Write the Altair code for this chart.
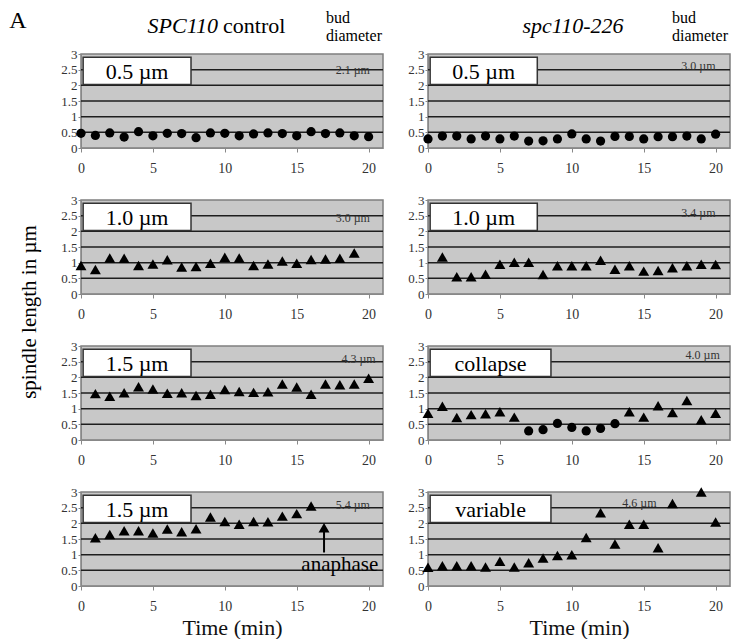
import altair as alt
import pandas as pd

# ---------------- data ----------------
time = list(range(21))
x_ticks = [0, 5, 10, 15, 20]
y_ticks = [0, 0.5, 1, 1.5, 2, 2.5, 3]
grid_levels = [0.5, 1, 1.5, 2, 2.5]

ctrl_05 = [0.47, 0.40, 0.48, 0.35, 0.52, 0.39, 0.47, 0.46, 0.33, 0.48, 0.47,
           0.39, 0.45, 0.48, 0.46, 0.39, 0.52, 0.46, 0.48, 0.39, 0.36]
mut_05 = [0.29, 0.38, 0.38, 0.29, 0.38, 0.29, 0.38, 0.22, 0.23, 0.29, 0.45,
          0.29, 0.22, 0.37, 0.37, 0.29, 0.36, 0.36, 0.38, 0.29, 0.44]
ctrl_10 = [0.91, 0.78, 1.15, 1.14, 0.91, 0.96, 1.09, 0.86, 0.88, 0.98, 1.17,
           1.15, 0.91, 0.96, 1.05, 0.98, 1.10, 1.12, 1.14, 1.31, None]
mut_10 = [None, 1.18, 0.55, 0.55, 0.63, 0.95, 1.01, 1.01, 0.62, 0.90, 0.90,
          0.90, 1.08, 0.79, 0.90, 0.73, 0.75, 0.84, 0.90, 0.95, 0.94]
ctrl_15a = [None, 1.48, 1.40, 1.51, 1.70, 1.63, 1.49, 1.51, 1.42, 1.46, 1.61,
            1.55, 1.52, 1.54, 1.79, 1.69, 1.46, 1.79, 1.76, 1.79, 1.97]
mut_collapse = [0.85, 1.08, 0.72, 0.81, 0.84, 0.90, 0.73, 0.29, 0.33, 0.53, 0.40,
                0.29, 0.37, 0.52, 0.90, 0.73, 1.09, 0.88, 1.26, 0.65, 0.85]
ctrl_15b = [None, 1.54, 1.64, 1.76, 1.76, 1.69, 1.82, 1.73, 1.83, 2.20, 2.06,
            1.97, 2.06, 2.05, 2.23, 2.31, 2.55, None, None, None, None]
mut_var = [0.60, 0.65, 0.65, 0.65, 0.61, 0.79, 0.61, 0.74, 0.89, 0.97, 1.00,
           1.55, 2.34, 1.34, 1.97, 1.97, 1.22, 2.63, None, 3.00, 2.04]

circ = ["circle"] * 21
tri = ["triangle"] * 21
collapse_shape = ["triangle"] * 7 + ["circle"] * 7 + ["triangle"] * 7

ctrl_labels = ["0.5 µm", "1.0 µm", "1.5 µm", "1.5 µm"]
mut_labels = ["0.5 µm", "1.0 µm", "collapse", "variable"]
ctrl_bud = ["2.1 µm", "3.0 µm", "4.3 µm", "5.4 µm"]
mut_bud = ["3.0 µm", "3.4 µm", "4.0 µm", "4.6 µm"]

# annotation placement (data units)
ctrl_bud_xy = [(18.9, 2.48), (18.9, 2.42), (19.3, 2.58), (18.9, 2.6)]
mut_bud_xy = [(18.8, 2.62), (18.8, 2.58), (19.1, 2.7), (14.7, 2.64)]
ctrl_box = [7.65, 7.65, 7.65, 7.65]
mut_box = [7.6, 7.6, 8.55, 8.55]

FONT = "Liberation Serif"
W, H = 302, 94
one = pd.DataFrame({"k": [0]})
xs = alt.Scale(domain=[0, 21], nice=False, zero=False)
ys = alt.Scale(domain=[0, 3], nice=False)
yax = alt.Axis(values=y_ticks, grid=False, format="~g", labelPadding=1,
               tickSize=3, labelFontSize=13, title=None,
               labelOverlap=False, labelBound=False, labelFlush=False)


def ptext(txt, x, y, size, align="left", style="normal", color="black",
          angle=0, baseline="middle"):
    kw = dict(font=FONT, fontSize=size, align=align, baseline=baseline,
              color=color, fontStyle=style)
    if angle:
        kw["angle"] = angle
    return alt.Chart(one).mark_text(**kw).encode(
        x=alt.value(x), y=alt.value(y), text=alt.value(txt))


def make_xax(bottom):
    return alt.Axis(values=x_ticks, grid=False, labelPadding=9, tickSize=4,
                    labelOverlap=False, labelFlush=False,
                    title="Time (min)" if bottom else None, titlePadding=4)


def panel(vals, shapes, label, box_x2, bud, bud_xy, bottom, extras=()):
    df = pd.DataFrame({"t": time, "v": vals, "s": shapes}).dropna()
    xax = make_xax(bottom)
    pts = alt.Chart(df).mark_point(filled=True, color="black", opacity=1).encode(
        x=alt.X("t:Q", scale=xs, axis=xax),
        y=alt.Y("v:Q", scale=ys, axis=yax),
        shape=alt.Shape("s:N", scale=alt.Scale(domain=["circle", "triangle"],
                                               range=["circle", "triangle-up"]),
                        legend=None),
        size=alt.Size("s:N", scale=alt.Scale(domain=["circle", "triangle"],
                                             range=[85, 120]), legend=None))
    grid = alt.Chart(pd.DataFrame({"g": grid_levels})).mark_rule(
        color="#1e1e1e", strokeWidth=1.5).encode(
        y=alt.Y("g:Q", scale=ys, axis=yax))
    box = alt.Chart(one).mark_rect(fill="white", stroke="#333", strokeWidth=1.5).encode(
        x=alt.XDatum(0.15, axis=xax), x2=alt.datum(box_x2),
        y=alt.YDatum(2.03, axis=yax), y2=alt.datum(2.9))
    box_t = alt.Chart(one).mark_text(font=FONT, fontSize=22, color="black",
                                     baseline="middle").encode(
        x=alt.XDatum((0.15 + box_x2) / 2, axis=xax),
        y=alt.YDatum(2.44, axis=yax), text=alt.value(label))
    bud_t = alt.Chart(one).mark_text(font=FONT, fontSize=12, color="#333",
                                     baseline="middle").encode(
        x=alt.XDatum(bud_xy[0], axis=xax), y=alt.YDatum(bud_xy[1], axis=yax),
        text=alt.value(bud))
    extra_layers = [e(xax) if callable(e) else e for e in extras]
    return alt.layer(grid, box, box_t, bud_t, pts, *extra_layers).properties(width=W, height=H)


# extras
left_top = [
    ptext("A", -63, -33, 24, align="center"),
    ptext("SPC110", 137, -28, 22, align="right", style="italic"),
    ptext("control", 142, -28, 22, align="left"),
    ptext("bud", 245, -36, 16),
    ptext("diameter", 245, -18, 16),
]
right_top = [
    ptext("spc110-226", 145, -28, 22, align="center", style="italic"),
    ptext("bud", 244, -36, 16),
    ptext("diameter", 244, -18, 16),
]
ytitle = [ptext("spindle length in µm", -51, 112, 21, align="center", angle=270)]

arrow_x = 16.9


def arrow_shaft(xax):
    return alt.Chart(one).mark_rule(color="black", strokeWidth=2).encode(
        x=alt.XDatum(arrow_x, axis=xax), y=alt.YDatum(1.07, axis=yax),
        y2=alt.datum(1.75))


def arrow_head(xax):
    return alt.Chart(one).mark_point(shape="triangle-up", filled=True, color="black",
                                     opacity=1, size=120).encode(
        x=alt.XDatum(arrow_x, axis=xax), y=alt.YDatum(1.86, axis=yax))


def anaphase_text(xax):
    return alt.Chart(one).mark_text(font=FONT, fontSize=21, color="black",
                                    baseline="middle").encode(
        x=alt.XDatum(18.0, axis=xax), y=alt.YDatum(0.66, axis=yax),
        text=alt.value("anaphase"))


arrow = [arrow_shaft, arrow_head, anaphase_text]

panels = [
    panel(ctrl_05, circ, ctrl_labels[0], ctrl_box[0], ctrl_bud[0], ctrl_bud_xy[0], False, left_top),
    panel(mut_05, circ, mut_labels[0], mut_box[0], mut_bud[0], mut_bud_xy[0], False, right_top),
    panel(ctrl_10, tri, ctrl_labels[1], ctrl_box[1], ctrl_bud[1], ctrl_bud_xy[1], False, ytitle),
    panel(mut_10, tri, mut_labels[1], mut_box[1], mut_bud[1], mut_bud_xy[1], False),
    panel(ctrl_15a, tri, ctrl_labels[2], ctrl_box[2], ctrl_bud[2], ctrl_bud_xy[2], False),
    panel(mut_collapse, collapse_shape, mut_labels[2], mut_box[2], mut_bud[2], mut_bud_xy[2], False),
    panel(ctrl_15b, tri, ctrl_labels[3], ctrl_box[3], ctrl_bud[3], ctrl_bud_xy[3], True, arrow),
    panel(mut_var, tri, mut_labels[3], mut_box[3], mut_bud[3], mut_bud_xy[3], True),
]

chart = alt.concat(*panels, columns=2, bounds="flush",
                   spacing={"row": 52, "column": 45}).properties(
    padding={"left": 0, "top": 0, "right": 2, "bottom": 0}
).configure_view(
    fill="#c8c8c8", stroke="#7f7f7f", strokeWidth=1.5
).configure_axis(
    labelFont=FONT, labelFontSize=14, labelColor="#333",
    domainColor="#888", tickColor="#888", domainWidth=1,
    titleFont=FONT, titleFontSize=22, titleColor="#111", titleFontWeight="normal",
    labelOverlap=False,
)

chart.save("out.html", embed_options={"renderer": "svg", "actions": False})
